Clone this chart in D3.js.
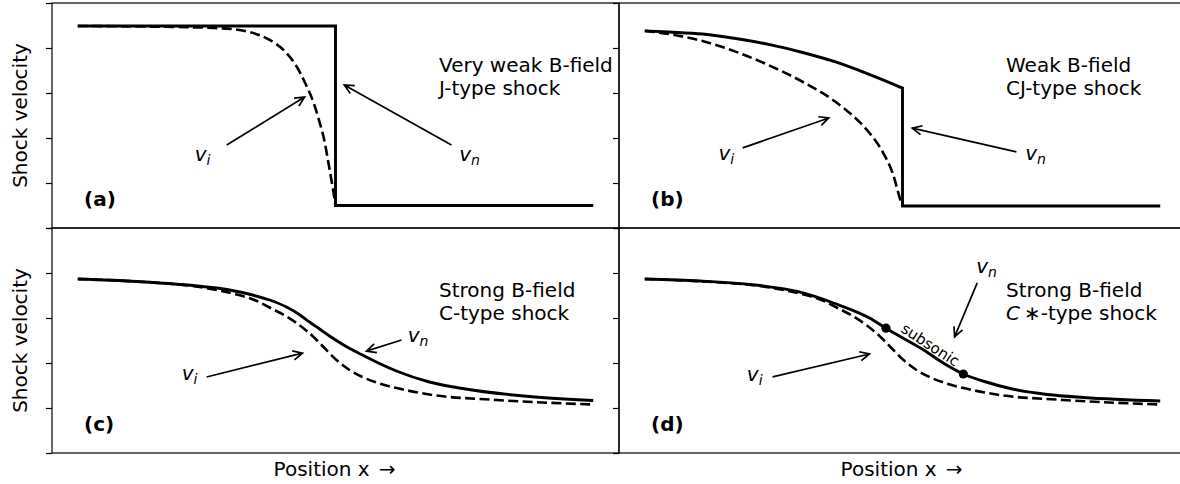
<!DOCTYPE html>
<html>
<head>
<meta charset="utf-8">
<script src="https://cdn.jsdelivr.net/npm/d3@7"></script>
<style>
  body { margin: 0; background: #fff; }
  svg text { font-family: "DejaVu Sans", sans-serif; fill: #000; }
</style>
</head>
<body>
<svg id="fig" width="1180" height="484"></svg>
<script>
// ---------------------------------------------------------------------------
// Velocity profiles through a shock (position normalised to 0..1,
// velocity in units of the axis range). Solid = neutrals, dashed = ions.
// ---------------------------------------------------------------------------
const yTicks = [0, 0.2, 0.4, 0.6, 0.8, 1.0];

// (a) very weak field, J-type
const aNeutralX = [0, 0.5, 0.5, 1];
const aNeutralV = [0.898, 0.898, 0.1, 0.1];
const aIonX = [0, 0.101, 0.198, 0.275, 0.333, 0.372, 0.401, 0.424, 0.442, 0.457, 0.469, 0.479, 0.486, 0.494, 0.5];
const aIonV = [0.898, 0.896, 0.893, 0.888, 0.871, 0.836, 0.787, 0.72, 0.64, 0.56, 0.471, 0.382, 0.293, 0.187, 0.102];

// (b) weak field, CJ-type
const bNeutralX = [0, 0.047, 0.1124, 0.1764, 0.2403, 0.3062, 0.3702, 0.4341, 0.5, 0.5, 1];
const bNeutralV = [0.876, 0.871, 0.862, 0.842, 0.816, 0.78, 0.738, 0.684, 0.622, 0.098, 0.098];
const bIonX = [0, 0.0465, 0.112, 0.176, 0.24, 0.306, 0.37, 0.403, 0.434, 0.463, 0.481, 0.496, 0.5];
const bIonV = [0.876, 0.862, 0.831, 0.784, 0.724, 0.65, 0.561, 0.5, 0.428, 0.332, 0.243, 0.124, 0.098];

// (c) strong field, C-type
const cNeutralX = [0, 0.1143, 0.2422, 0.2946, 0.3391, 0.3721, 0.405, 0.4283, 0.4496, 0.469, 0.4884,
                   0.5174, 0.5523, 0.5853, 0.6182, 0.6822, 0.7461, 0.876, 1];
const cNeutralV = [0.7733, 0.7622, 0.74, 0.7244, 0.7022, 0.68, 0.6489, 0.6178, 0.5822, 0.5511, 0.52,
                   0.4778, 0.4356, 0.3978, 0.3644, 0.3156, 0.2867, 0.2511, 0.2333];
const cIonX = [0, 0.1143, 0.2422, 0.3081, 0.343, 0.3721, 0.405, 0.436, 0.4554, 0.4748, 0.5019,
               0.5271, 0.5523, 0.5853, 0.6182, 0.6822, 0.812, 1];
const cIonV = [0.7733, 0.7622, 0.7356, 0.7044, 0.68, 0.6467, 0.6067, 0.5578, 0.52, 0.4756, 0.4133,
               0.3689, 0.3378, 0.3089, 0.2889, 0.26, 0.2356, 0.2156];

// (d) strong field, C*-type, with the two sonic points bounding the subsonic stretch
const dNeutralX = [0, 0.107, 0.223, 0.298, 0.366, 0.436, 0.469, 0.504, 0.541, 0.579, 0.618,
                   0.659, 0.713, 0.781, 0.851, 1];
const dNeutralV = [0.7733, 0.7644, 0.7444, 0.7169, 0.6667, 0.6, 0.5533, 0.5067, 0.4578, 0.4, 0.3511,
                   0.3178, 0.2844, 0.26, 0.2467, 0.2311];
const dIonX = cIonX;
const dIonV = cIonV;
const dSonicX = [0.468, 0.618];
const dSonicV = [0.5547, 0.3511];

// ---------------------------------------------------------------------------
// Layout
// ---------------------------------------------------------------------------
const W = 1180, H = 484;
const cols = [{ x0: 52, x1: 619 }, { x0: 619, x1: 1186 }];
const rows = [{ y0: 3, y1: 228 }, { y0: 228, y1: 453 }];
const FS = 20;

const panels = [
  { tag: "(a)", col: 0, row: 0, nx: aNeutralX, nv: aNeutralV, ix: aIonX, iv: aIonV,
    title: ["Very weak B-field", "J-type shock"],
    vi: { text: [0.227, 0.298], tail: [0.289, 0.369], head: [0.44, 0.582] },
    vn: { text: [0.74, 0.298], tail: [0.725, 0.369], head: [0.517, 0.636] } },
  { tag: "(b)", col: 1, row: 0, nx: bNeutralX, nv: bNeutralV, ix: bIonX, iv: bIonV,
    title: ["Weak B-field", "CJ-type shock"],
    vi: { text: [0.143, 0.302], tail: [0.19, 0.356], head: [0.357, 0.489] },
    vn: { text: [0.738, 0.302], tail: [0.721, 0.338], head: [0.519, 0.444] } },
  { tag: "(c)", col: 0, row: 1, nx: cNeutralX, nv: cNeutralV, ix: cIonX, iv: cIonV,
    title: ["Strong B-field", "C-type shock"],
    vi: { text: [0.2016, 0.324], tail: [0.25, 0.338], head: [0.436, 0.444] },
    vn: { text: [0.64, 0.493], tail: [0.628, 0.502], head: [0.56, 0.453] } },
  { tag: "(d)", col: 1, row: 1, nx: dNeutralX, nv: dNeutralV, ix: dIonX, iv: dIonV,
    title: ["Strong B-field", "C*-type shock"],
    vi: { text: [0.198, 0.32], tail: [0.248, 0.338], head: [0.436, 0.44] },
    vn: { text: [0.643, 0.8], tail: [0.645, 0.756], head: [0.601, 0.516] },
    sonic: { x: dSonicX, v: dSonicV, label: "subsonic", at: [0.554, 0.48], angle: 33 } }
];

const svg = d3.select("#fig");
svg.append("rect").attr("width", W).attr("height", H).attr("fill", "#fff");

// path through the points, smooth between vertical jumps (repeated x)
function profilePath(xs, vs, sx, sy) {
  const segs = [];
  let cur = [[sx(xs[0]), sy(vs[0])]];
  for (let i = 1; i < xs.length; i++) {
    const p = [sx(xs[i]), sy(vs[i])];
    if (xs[i] === xs[i - 1]) { segs.push(cur); cur = [p]; } else cur.push(p);
  }
  segs.push(cur);
  const gen = d3.line().curve(d3.curveMonotoneX);
  return segs.map((s, k) => {
    const d = gen(s);
    return k === 0 ? d : "L" + d.slice(1);
  }).join("");
}

function arrow(g, x1, y1, x2, y2) {
  const ang = Math.atan2(y2 - y1, x2 - x1);
  const L = 9.5, hw = 4.6;
  const bx = x2 - L * Math.cos(ang), by = y2 - L * Math.sin(ang);
  const nx = -Math.sin(ang) * hw, ny = Math.cos(ang) * hw;
  g.append("path")
    .attr("d", `M${x1},${y1}L${x2},${y2}M${bx + nx},${by + ny}L${x2},${y2}L${bx - nx},${by - ny}`)
    .attr("fill", "none").attr("stroke", "#000").attr("stroke-width", 1.7)
    .attr("stroke-linejoin", "miter");
}

function velLabel(g, x, y, sub) {
  const t = g.append("text").attr("x", x).attr("y", y).attr("font-size", FS);
  t.append("tspan").attr("font-style", "italic").text("v");
  t.append("tspan").attr("font-style", "italic").attr("font-size", FS * 0.7)
    .attr("dy", 4).text(sub);
}

panels.forEach(p => {
  const c = cols[p.col], r = rows[p.row];
  const x = d3.scaleLinear().domain([-0.05, 1.05]).range([c.x0, c.x1]);
  const y = d3.scaleLinear().domain([0, 1]).range([r.y1, r.y0]);
  const g = svg.append("g");

  // y ticks without labels
  const ax = g.append("g").attr("transform", `translate(${c.x0},0)`)
    .call(d3.axisLeft(y).tickValues(yTicks).tickSize(6).tickSizeOuter(0).tickFormat(""));
  ax.select(".domain").remove();
  ax.selectAll("line").attr("stroke", "#000").attr("stroke-width", 1.2);

  // frame
  g.append("rect").attr("x", c.x0).attr("y", r.y0)
    .attr("width", c.x1 - c.x0).attr("height", r.y1 - r.y0)
    .attr("fill", "none").attr("stroke", "#000").attr("stroke-width", 1.2);

  // ion (dashed) and neutral (solid) profiles
  g.append("path").attr("d", profilePath(p.ix, p.iv, x, y))
    .attr("fill", "none").attr("stroke", "#000").attr("stroke-width", 2.6)
    .attr("stroke-dasharray", "10,4.4");
  g.append("path").attr("d", profilePath(p.nx, p.nv, x, y))
    .attr("fill", "none").attr("stroke", "#000").attr("stroke-width", 2.9)
    .attr("stroke-linejoin", "miter");

  // sonic points and the subsonic label between them
  if (p.sonic) {
    g.selectAll("circle.sonic").data(p.sonic.x).join("circle")
      .attr("class", "sonic")
      .attr("cx", d => x(d)).attr("cy", (d, i) => y(p.sonic.v[i]))
      .attr("r", 4.6).attr("fill", "#000");
    g.append("text")
      .attr("transform", `translate(${x(p.sonic.at[0])},${y(p.sonic.at[1])}) rotate(${p.sonic.angle})`)
      .attr("text-anchor", "middle").attr("dominant-baseline", "central")
      .attr("font-size", 15).text(p.sonic.label);
  }

  // panel tag
  g.append("text").attr("x", c.x0 + 32).attr("y", r.y0 + 203)
    .attr("font-size", FS).attr("font-weight", "bold").text(p.tag);

  // description, two lines
  const tx = c.x0 + 387;
  g.append("text").attr("x", tx).attr("y", r.y0 + 68.5).attr("font-size", FS).text(p.title[0]);
  const l2 = g.append("text").attr("x", tx).attr("y", r.y0 + 91.5).attr("font-size", FS);
  if (p.title[1].startsWith("C*")) {
    l2.append("tspan").attr("font-style", "italic").text("C");
    l2.append("tspan").text("\u2009\u2217" + p.title[1].slice(2));
  } else {
    l2.text(p.title[1]);
  }

  // v_i / v_n annotations
  [["vi", "i"], ["vn", "n"]].forEach(([k, sub]) => {
    const a = p[k];
    velLabel(g, x(a.text[0]), y(a.text[1]), sub);
    arrow(g, x(a.tail[0]), y(a.tail[1]), x(a.head[0]), y(a.head[1]));
  });
});

// axis titles
rows.forEach(r => {
  svg.append("text")
    .attr("transform", `translate(26.5,${(r.y0 + r.y1) / 2}) rotate(-90)`)
    .attr("text-anchor", "middle").attr("font-size", FS).text("Shock velocity");
});
cols.forEach(c => {
  const t = svg.append("text").attr("x", (c.x0 + c.x1) / 2 - 1).attr("y", 476)
    .attr("text-anchor", "middle").attr("font-size", FS);
  t.append("tspan").text("Position x");
  t.append("tspan").attr("dx", 9).text("\u2192");
});
</script>
</body>
</html>
